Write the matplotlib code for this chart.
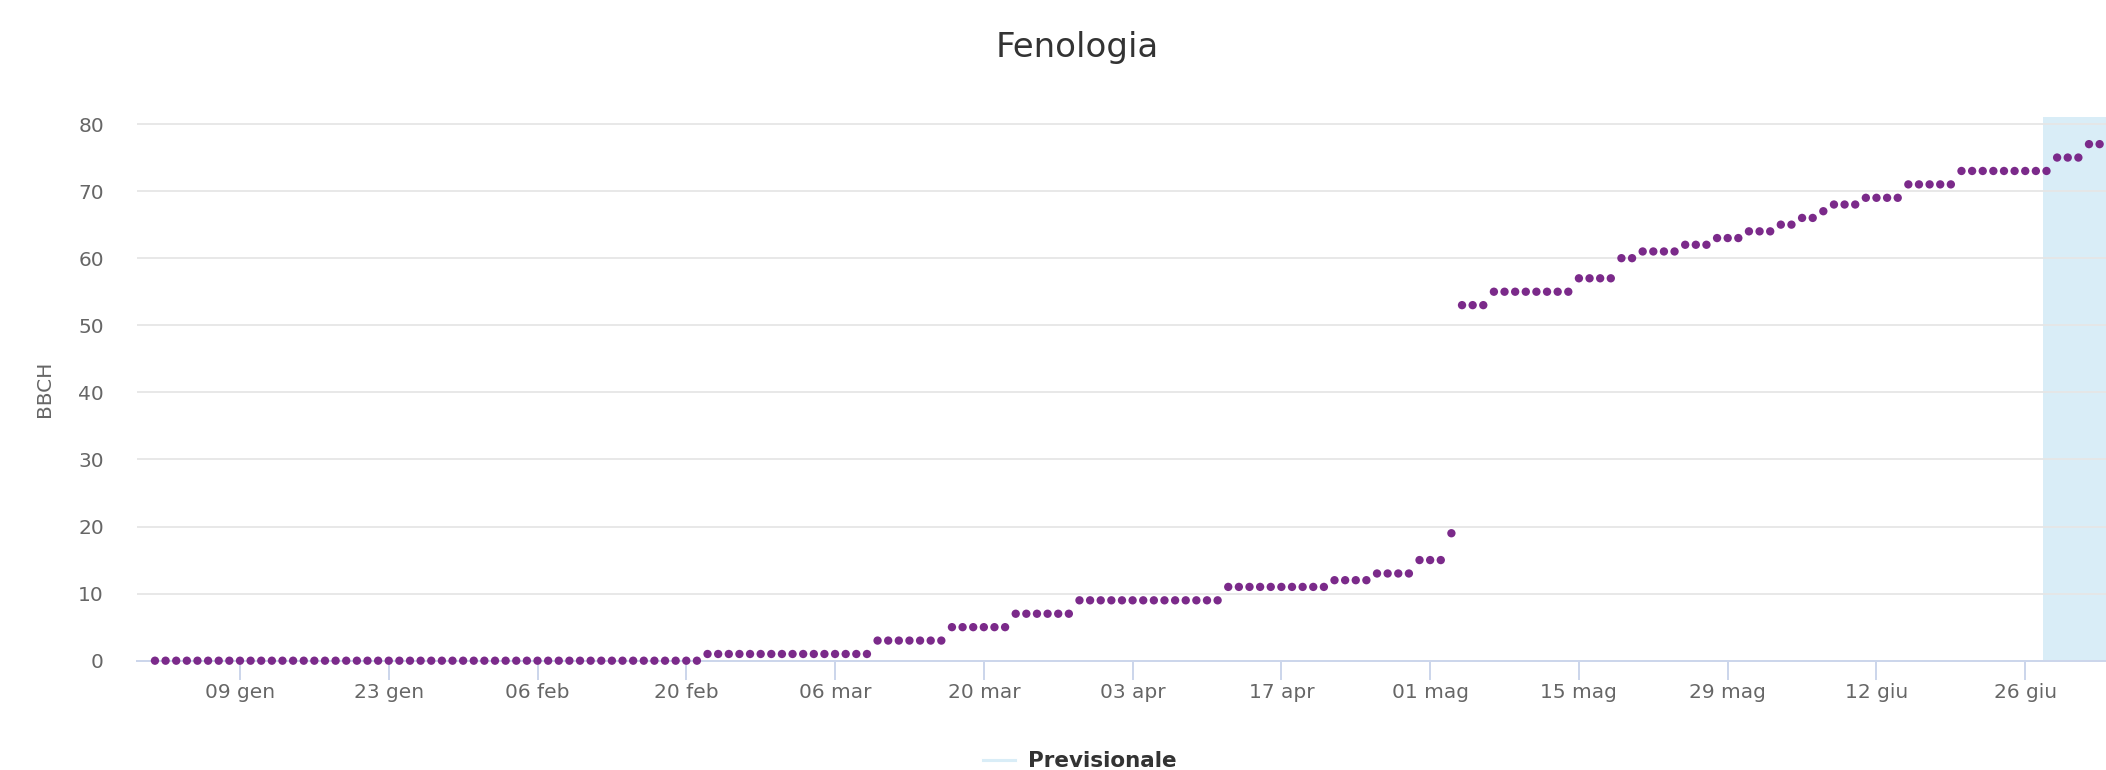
import matplotlib
matplotlib.use('Agg')
import matplotlib.pyplot as plt
import matplotlib.dates as mdates
from matplotlib.lines import Line2D
import pandas as pd

# BBCH stage per day (one value per day from 01 gen)
bbch_gen = [0] * 31
bbch_feb = [0] * 21 + [1] * 7
bbch_mar = [1] * 9 + [3] * 7 + [5] * 6 + [7] * 6 + [9] * 3
bbch_apr = [9] * 11 + [11] * 10 + [12] * 4 + [13] * 4 + [15]
bbch_mag = [15, 15, 19, 53, 53, 53] + [55] * 8 + [57] * 4 + [60, 60] + [61] * 4 + [62] * 3 + [63] * 3 + [64]
bbch_giu = [64, 64, 65, 65, 66, 66, 67, 68, 68, 68] + [69] * 4 + [71] * 5 + [73] * 9 + [75, 75]
bbch_lug = [75, 77, 77]

start_date = '2023-01-01'
forecast_start = '2023-06-27 15:30'
tick_labels = ['09 gen', '23 gen', '06 feb', '20 feb', '06 mar', '20 mar', '03 apr',
               '17 apr', '01 mag', '15 mag', '29 mag', '12 giu', '26 giu']
tick_first = '2023-01-09'

bbch = bbch_gen + bbch_feb + bbch_mar + bbch_apr + bbch_mag + bbch_giu + bbch_lug
dates = pd.date_range(start_date, periods=len(bbch), freq='D')
ticks = pd.date_range(tick_first, periods=len(tick_labels), freq='14D')

W, H = 2106, 770
fig = plt.figure(figsize=(W / 100, H / 100), dpi=100)
ax = fig.add_axes([137 / W, 1 - 660.7 / H, (W - 137) / W, (660.7 - 117.3) / H])

t0 = mdates.date2num(pd.Timestamp(start_date))
ax.set_xlim(t0 - 1.69, t0 + 183.6)
ax.set_ylim(0, 81)

ax.axvspan(mdates.date2num(pd.Timestamp(forecast_start)), t0 + 200,
           color='#d9edf7', zorder=0, lw=0)

ax.set_yticks(range(0, 81, 10))
ax.grid(axis='y', color='#e6e6e6', lw=1.3, zorder=1)
ax.set_axisbelow(True)

ax.scatter(dates, bbch, s=36, color='#7b2a8a', edgecolors='none', zorder=3, clip_on=False)

ax.set_xticks(ticks)
ax.set_xticklabels(tick_labels)

for s in ['top', 'right', 'left']:
    ax.spines[s].set_visible(False)
ax.spines['bottom'].set_color('#ccd6eb')
ax.spines['bottom'].set_linewidth(1.44)
ax.spines['bottom'].set_zorder(2)

ax.tick_params(axis='x', length=13.7, width=1.44, color='#ccd6eb', labelsize=14.5,
               labelcolor='#666666', pad=2)
ax.tick_params(axis='y', length=0, labelsize=14.5, labelcolor='#666666', pad=23.8)

fig.text(44 / W, 0.5 * ((1 - 660.7 / H) + (1 - 117.3 / H)), 'BBCH', rotation=90,
         ha='center', va='center', fontsize=14.5, color='#666666')

fig.text(1077.5 / W, 1 - 56.7 / H, 'Fenologia', ha='center', va='baseline',
         fontsize=24.5, color='#333333')

fig.add_artist(Line2D([983 / W, 1015 / W], [1 - 760 / H, 1 - 760 / H],
                      color='#d9edf7', lw=2.2, transform=fig.transFigure))
fig.text(1028 / W, 1 - 767 / H, 'Previsionale', ha='left', va='baseline',
         fontsize=15.5, fontweight='bold', color='#333333')

fig.savefig('out.png', dpi=100)
